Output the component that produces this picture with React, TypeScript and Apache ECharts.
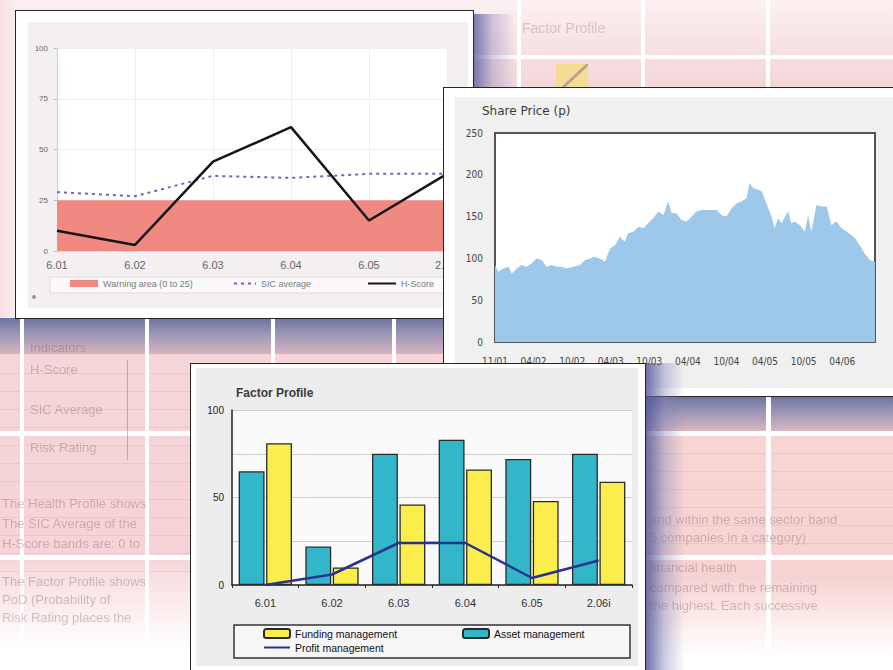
import React, { useEffect, useRef } from "react";
import * as echarts from "echarts";

// ---------- Health Profile (top-left panel) ----------
const healthCategories = ["6.01", "6.02", "6.03", "6.04", "6.05", "2.06i"];
const warningArea = [25, 25, 25, 25, 25, 25];
const sicAverage = [29, 27, 37, 36, 38, 38];
const hScore = [10, 3, 44, 61, 15, 38];

// ---------- Share Price (right panel) ----------
const shareLabels = ["11/01", "04/02", "10/02", "04/03", "10/03", "04/04", "10/04", "04/05", "10/05", "04/06"];
const priceMonths = [
  0, 0.5, 1.3, 2.1, 2.6, 3.4, 4.1, 4.9, 5.7, 6.5, 7.3, 8.0, 8.8, 9.6, 10.4, 11.1, 12.2, 13.2, 14.0, 14.8,
  15.5, 16.3, 17.1, 17.9, 18.7, 19.4, 20.2, 20.7, 21.5, 22.3, 23.1, 23.8, 24.6, 25.4, 26.2, 26.9, 27.5, 28.2,
  29.0, 29.8, 30.6, 31.3, 32.1, 32.9, 33.7, 34.5, 35.2, 36.0, 36.8, 37.6, 38.3, 39.1, 39.6, 40.2, 40.9, 41.5,
  42.0, 42.5, 43.0, 43.5, 44.0, 44.6, 45.1, 45.6, 46.1, 46.6, 47.4, 48.2, 48.7, 49.2, 50.0, 50.8, 51.6, 52.3,
  53.1, 53.9, 54.7, 55.4, 56.0, 56.7, 57.5, 58.3, 59.1,
];
const priceValues = [
  92, 84, 88, 90, 82, 88, 92, 90, 94, 100, 98, 90, 92, 90, 90, 88, 90, 92, 98, 100,
  102, 100, 96, 112, 116, 126, 120, 130, 132, 138, 136, 142, 148, 156, 152, 168, 154, 154,
  146, 144, 150, 156, 158, 158, 158, 158, 152, 150, 160, 166, 168, 172, 190, 184, 182, 180,
  170, 160, 150, 136, 148, 142, 150, 156, 142, 144, 140, 132, 152, 132, 164, 162, 162, 140,
  144, 136, 132, 128, 124, 116, 106, 98, 96,
];

// ---------- Factor Profile (bottom panel) ----------
const factorCategories = ["6.01", "6.02", "6.03", "6.04", "6.05", "2.06i"];
const fundingMgmt = [81, 10, 46, 66, 48, 59];
const assetMgmt = [65, 22, 75, 83, 72, 75];
const profitMgmt = [0, 6, 24, 24, 4, 14];

function EChart({ option, width, height }: { option: any; width: number; height: number }) {
  const ref = useRef<HTMLDivElement>(null);
  useEffect(() => {
    const chart = echarts.init(ref.current as HTMLDivElement, null, { renderer: "svg" });
    chart.setOption(option);
    return () => chart.dispose();
  }, []);
  return <div ref={ref} style={{ width, height }} />;
}

const healthLegendText = { fontSize: 9, color: "#7a7a7a", fontFamily: "Liberation Sans" };
const healthOption = {
  animation: false,
  graphic: [
    { type: "rect", z: -10, shape: { x: 12, y: 11, width: 440, height: 286 }, style: { fill: "#f4eff1" } },
    { type: "rect", z: -9, shape: { x: 34, y: 266, width: 420, height: 16 }, style: { fill: "#fbf9fa", stroke: "#e2dadd", lineWidth: 1 } },
    { type: "circle", shape: { cx: 18, cy: 286, r: 2 }, style: { fill: "#999" } },
  ],
  grid: { left: 41, top: 37, width: 390, height: 203, show: true, backgroundColor: "#ffffff", borderWidth: 0 },
  xAxis: {
    type: "category",
    boundaryGap: false,
    data: healthCategories,
    axisLine: { show: true, lineStyle: { color: "#dcdcdc" } },
    axisTick: { show: false },
    axisLabel: { fontSize: 11, color: "#666", margin: 8, fontFamily: "Liberation Sans" },
    splitLine: { show: true, lineStyle: { color: "#efefef" } },
  },
  yAxis: {
    type: "value",
    min: 0,
    max: 100,
    interval: 25,
    axisLine: { show: true, lineStyle: { color: "#d0d0d0" } },
    axisTick: { show: true, length: 3, lineStyle: { color: "#bbb" } },
    axisLabel: { fontSize: 8, color: "#666", margin: 9, fontFamily: "Liberation Sans" },
    splitLine: { show: true, lineStyle: { color: "#efefef" } },
  },
  legend: [
    {
      left: 54, top: 268, padding: 0, itemWidth: 28, itemHeight: 7, itemGap: 2,
      textStyle: healthLegendText,
      data: [{ name: "Warning area (0 to 25)", icon: "rect", itemStyle: { color: "#f08981" } }],
    },
    {
      left: 217, top: 268, padding: 0, itemWidth: 22, itemHeight: 8,
      itemStyle: { opacity: 0 },
      textStyle: healthLegendText,
      data: ["SIC average"],
    },
    {
      left: 351, top: 268, padding: 0, itemWidth: 28, itemHeight: 8,
      itemStyle: { opacity: 0 },
      textStyle: healthLegendText,
      data: ["H-Score"],
    },
  ],
  series: [
    {
      name: "Warning area (0 to 25)",
      type: "line",
      data: warningArea,
      symbol: "none",
      z: 1,
      lineStyle: { width: 0, color: "#f08981" },
      itemStyle: { color: "#f08981" },
      areaStyle: { color: "#f08981", opacity: 1 },
    },
    {
      name: "SIC average",
      type: "line",
      data: sicAverage,
      symbol: "none",
      z: 3,
      lineStyle: { color: "#7264b6", width: 2, type: [3, 4] },
      itemStyle: { color: "#7264b6" },
    },
    {
      name: "H-Score",
      type: "line",
      data: hScore,
      symbol: "none",
      z: 4,
      lineStyle: { color: "#161616", width: 2.5 },
      itemStyle: { color: "#161616" },
    },
  ],
};

const shareOption = {
  animation: false,
  graphic: [{ type: "rect", z: -10, shape: { x: 11, y: 9, width: 470, height: 291 }, style: { fill: "#f0f0f0" } }],
  title: {
    text: "Share Price (p)",
    left: 33,
    top: 12,
    textStyle: { fontSize: 12, fontWeight: "normal", color: "#3a3a3a", fontFamily: "DejaVu Sans" },
  },
  grid: { left: 51, top: 45, width: 380, height: 209, show: true, backgroundColor: "#ffffff", borderColor: "#555", borderWidth: 2 },
  xAxis: {
    type: "value",
    min: 0,
    max: 59.1,
    interval: 6,
    axisLine: { show: false },
    axisTick: { show: false },
    splitLine: { show: false },
    axisLabel: {
      showMaxLabel: false,
      fontSize: 10,
      color: "#444",
      margin: 14,
      fontFamily: "DejaVu Sans Condensed",
      formatter: (v: number) => shareLabels[Math.round(v / 6)] ?? "",
    },
  },
  yAxis: {
    type: "value",
    min: 0,
    max: 250,
    interval: 50,
    axisLine: { show: false },
    axisTick: { show: false },
    splitLine: { show: false },
    axisLabel: { fontSize: 10, color: "#444", margin: 12, fontFamily: "DejaVu Sans Condensed" },
  },
  series: [
    {
      name: "Share Price",
      type: "line",
      data: priceMonths.map((m, i) => [m, priceValues[i]]),
      symbol: "none",
      lineStyle: { width: 0, color: "#9dc8ea" },
      areaStyle: { color: "#9dc8ea", opacity: 1 },
    },
  ],
};

const legendText = { fontSize: 10.5, color: "#111", fontFamily: "Liberation Sans" };
const factorOption = {
  animation: false,
  graphic: [
    { type: "rect", z: -10, shape: { x: 5, y: 4, width: 442, height: 298 }, style: { fill: "#ededed" } },
    { type: "rect", z: -9, shape: { x: 43, y: 261, width: 396, height: 33 }, style: { fill: "#f6f6f6", stroke: "#333", lineWidth: 1.5 } },
  ],
  title: {
    text: "Factor Profile",
    left: 40,
    top: 18,
    textStyle: { fontSize: 12, fontWeight: "bold", color: "#3a3a3a", fontFamily: "Liberation Sans" },
  },
  grid: { left: 41, top: 46, width: 400, height: 175, show: true, backgroundColor: "#fafafa", borderWidth: 0 },
  xAxis: {
    type: "category",
    data: factorCategories,
    axisLine: { show: true, lineStyle: { color: "#222", width: 1.5 } },
    axisTick: { show: true, length: 3, lineStyle: { color: "#222" } },
    axisLabel: { fontSize: 11, color: "#333", margin: 12, fontFamily: "Liberation Sans" },
  },
  yAxis: {
    type: "value",
    min: 0,
    max: 100,
    interval: 25,
    axisLine: { show: true, lineStyle: { color: "#222", width: 1.5 } },
    axisTick: { show: false },
    axisLabel: {
      fontSize: 10,
      color: "#222",
      margin: 8,
      fontFamily: "Liberation Sans",
      formatter: (v: number) => (v % 50 === 0 ? String(v) : ""),
    },
    splitLine: { show: true, lineStyle: { color: "#cfcfcf" } },
  },
  legend: [
    { left: 72, top: 264, padding: 0, itemWidth: 26, itemHeight: 9, itemGap: 2, textStyle: legendText, data: ["Funding management"] },
    { left: 271, top: 264, padding: 0, itemWidth: 26, itemHeight: 9, itemGap: 2, textStyle: legendText, data: ["Asset management"] },
    { left: 72, top: 278, padding: 0, itemWidth: 26, itemHeight: 9, itemGap: 2, itemStyle: { opacity: 0 }, textStyle: legendText, data: ["Profit management"] },
  ],
  series: [
    {
      name: "Asset management",
      type: "bar",
      data: assetMgmt,
      barGap: "6%",
      barCategoryGap: "20%",
      itemStyle: { color: "#33b6ca", borderColor: "#2a2a2a", borderWidth: 1.3 },
    },
    {
      name: "Funding management",
      type: "bar",
      data: fundingMgmt,
      itemStyle: { color: "#fbee4c", borderColor: "#2a2a2a", borderWidth: 1.3 },
    },
    {
      name: "Profit management",
      type: "line",
      data: profitMgmt,
      symbol: "none",
      z: 5,
      lineStyle: { color: "#26348f", width: 2.5 },
      itemStyle: { color: "#26348f" },
    },
  ],
};

const abs = (l: number, t: number, w: number, h: number, extra: any = {}) => ({
  position: "absolute" as const,
  left: l,
  top: t,
  width: w,
  height: h,
  ...extra,
});

const pinkRows = "repeating-linear-gradient(to bottom, rgba(255,255,255,0) 0px, rgba(255,255,255,0) 17px, rgba(190,140,150,0.25) 17px, rgba(190,140,150,0.25) 18px)";
const faint = { color: "rgba(130,95,105,0.36)", fontFamily: "Liberation Sans", fontSize: 13, whiteSpace: "nowrap" as const, filter: "blur(0.7px)" };

export default function App() {
  return (
    <div style={{ position: "fixed", left: 0, top: 0, width: 893, height: 670, overflow: "hidden", background: "#ffffff" }}>
      {/* background: faded report table */}
      <div style={abs(0, 0, 893, 96, { background: "linear-gradient(to bottom, #fbf1f2 0%, #f6dfe2 55%, #f4d4d8 100%)" })} />
      <div style={abs(0, 55, 893, 4, { background: "#fff" })} />
      <div style={abs(517, 0, 4, 96, { background: "#fff" })} />
      <div style={abs(641, 0, 4, 96, { background: "#fff" })} />
      <div style={abs(766, 0, 4, 96, { background: "#fff" })} />
      <div style={abs(522, 20, 115, 20, { ...faint, fontSize: 14, color: "rgba(130,95,105,0.28)" })}>Factor Profile</div>
      <div style={abs(556, 64, 32, 30, { background: "linear-gradient(to bottom right, #f6dc7c 45%, #8a7a6a 50%, #f6dc7c 55%)", opacity: 0.75 })} />
      <div style={abs(470, 14, 45, 82, { background: "linear-gradient(to right, rgba(80,85,150,0.85), rgba(120,120,180,0.35) 50%, rgba(255,255,255,0))" })} />

      <div style={abs(0, 0, 16, 330, { background: "linear-gradient(to right, #f6dfe2, #fbeff0)" })} />

      {/* left lower table */}
      <div style={abs(0, 318, 445, 330, { background: "linear-gradient(to bottom, #f5d6d9 0%, #f5d3d6 70%, #fdf3f4 92%, #ffffff 100%)" })} />
      <div style={abs(0, 318, 445, 36, { background: "linear-gradient(to bottom, #6f729f 0%, #9d97b8 45%, #d7b5bf 100%)" })} />
      <div style={abs(0, 356, 445, 230, { background: pinkRows, opacity: 0.8 })} />
      <div style={abs(20, 318, 4, 330, { background: "#fff" })} />
      <div style={abs(145, 318, 4, 330, { background: "#fff" })} />
      <div style={abs(271, 318, 4, 60, { background: "#fff" })} />
      <div style={abs(392, 318, 4, 60, { background: "#fff" })} />
      <div style={abs(0, 431, 445, 5, { background: "#fff" })} />
      <div style={abs(0, 555, 445, 5, { background: "#fff" })} />
      <div style={abs(127, 360, 1, 100, { background: "rgba(120,90,100,0.4)" })} />
      <div style={abs(30, 340, 95, 18, faint)}>Indicators</div>
      <div style={abs(30, 362, 95, 18, faint)}>H-Score</div>
      <div style={abs(30, 402, 95, 18, faint)}>SIC Average</div>
      <div style={abs(30, 440, 95, 18, faint)}>Risk Rating</div>
      <div style={abs(2, 496, 185, 18, faint)}>The Health Profile shows</div>
      <div style={abs(2, 516, 185, 18, faint)}>The SIC Average of the</div>
      <div style={abs(2, 536, 185, 18, faint)}>H-Score bands are: 0 to</div>
      <div style={abs(2, 574, 185, 18, faint)}>The Factor Profile shows</div>
      <div style={abs(2, 592, 185, 18, faint)}>PoD (Probability of</div>
      <div style={abs(2, 610, 185, 18, faint)}>Risk Rating places the</div>

      {/* right lower table */}
      <div style={abs(560, 396, 333, 260, { background: "linear-gradient(to bottom, #f6d6d3 0%, #f6d3d2 70%, #fdf2f1 90%, #ffffff 100%)" })} />
      <div style={abs(560, 397, 333, 34, { background: "linear-gradient(to bottom, #6f729f 0%, #9d97b8 45%, #d9b7bf 100%)" })} />
      <div style={abs(560, 436, 333, 120, { background: pinkRows, opacity: 0.8 })} />
      <div style={abs(766, 396, 5, 260, { background: "#fff" })} />
      <div style={abs(560, 431, 333, 5, { background: "#fff" })} />
      <div style={abs(560, 555, 333, 5, { background: "#fff" })} />
      <div style={abs(650, 512, 243, 18, faint)}>and within the same sector band</div>
      <div style={abs(650, 530, 243, 18, faint)}>5 companies in a category)</div>
      <div style={abs(650, 560, 243, 18, faint)}>financial health</div>
      <div style={abs(650, 580, 243, 18, faint)}>compared with the remaining</div>
      <div style={abs(650, 598, 243, 18, faint)}>the highest. Each successive</div>

      {/* Health Profile panel */}
      <div style={abs(15, 10, 457, 307, { border: "1px solid #262626", background: "#fff", zIndex: 1 })}>
        <EChart option={healthOption} width={457} height={307} />
      </div>

      {/* Share price panel */}
      <div style={abs(443, 87, 470, 308, { borderTop: "1px solid #262626", borderLeft: "1px solid #262626", borderBottom: "1px solid #262626", background: "#fff", zIndex: 2 })}>
        <EChart option={shareOption} width={470} height={308} />
      </div>

      {/* Factor Profile panel */}
      <div style={abs(645, 363, 40, 307, { background: "linear-gradient(to right, rgba(80,85,150,0.85), rgba(130,130,185,0.4) 50%, rgba(255,255,255,0))", zIndex: 3 })} />
      <div style={abs(190, 363, 454, 310, { border: "1px solid #262626", background: "#fff", zIndex: 3 })}>
        <EChart option={factorOption} width={454} height={310} />
      </div>
    </div>
  );
}
